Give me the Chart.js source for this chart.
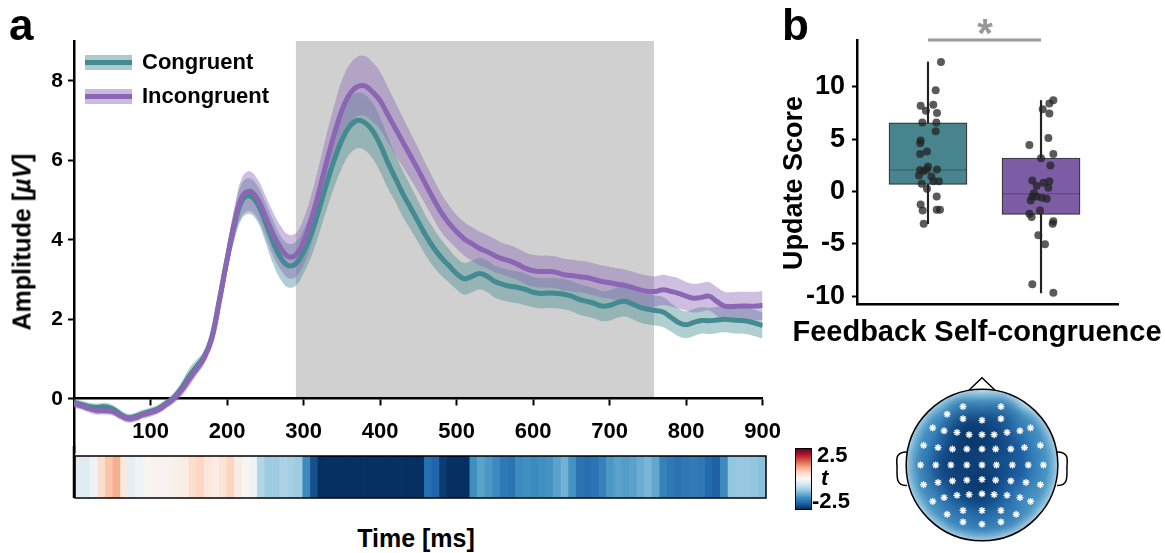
<!DOCTYPE html>
<html>
<head>
<meta charset="utf-8">
<script src="https://cdn.jsdelivr.net/npm/chart.js@4.4.1/dist/chart.umd.min.js"></script>
<style>
  body { margin: 0; background: #fff; }
  #fig { position: relative; width: 1165px; height: 553px; background: #fff; overflow: hidden;
         font-family: "Liberation Sans", Arial, Helvetica, sans-serif; font-weight: bold; color: #000; }
  #fig canvas { position: absolute; }
  .txt { position: absolute; white-space: nowrap; }
  .rot { transform: translate(-50%, -50%) rotate(-90deg); }
  .sw { position: absolute; left: 85px; width: 47px; height: 15px; }
  .sw i { position: absolute; left: 0; right: 0; top: 5px; height: 5px; }
</style>
</head>
<body>
<div id="fig">
  <canvas id="erp" width="795" height="470" style="left:0;top:0"></canvas>
  <canvas id="strip" width="720" height="60" style="left:60px;top:446px"></canvas>
  <canvas id="box" width="395" height="350" style="left:770px;top:0"></canvas>
  <canvas id="topo" width="200" height="200" style="left:882px;top:365px"></canvas>

  <div class="txt" style="left:9px;top:3px;font-size:44px;line-height:44px">a</div>
  <div class="txt" style="left:782px;top:3px;font-size:44px;line-height:44px">b</div>

  <div class="sw" style="top:55px;background:rgba(69,139,146,0.45)"><i style="background:#438a91"></i></div>
  <div class="txt" style="left:142px;top:51px;font-size:22px;line-height:22px">Congruent</div>
  <div class="sw" style="top:89px;background:rgba(139,102,180,0.45)"><i style="background:#8a66b4"></i></div>
  <div class="txt" style="left:142px;top:85px;font-size:22px;line-height:22px">Incongruent</div>

  <div class="txt rot" style="left:22px;top:242px;font-size:25px;line-height:25px">Amplitude [<i>µV</i>]</div>
  <div class="txt" style="left:416px;top:526px;font-size:25px;line-height:25px;transform:translateX(-50%)">Time [ms]</div>

  <div id="cbar" style="position:absolute;left:795px;top:448px;width:15px;height:60px;border:1.5px solid #000"></div>
  <div class="txt" style="left:817px;top:444px;font-size:22px;line-height:22px">2.5</div>
  <div class="txt" style="left:821px;top:467px;font-size:22px;line-height:22px"><i>t</i></div>
  <div class="txt" style="left:812px;top:490px;font-size:22px;line-height:22px">-2.5</div>

  <div class="txt rot" style="left:793px;top:183px;font-size:27px;line-height:27px">Update Score</div>
  <div class="txt" style="left:977px;top:317px;font-size:29px;line-height:29px;transform:translateX(-50%)">Feedback Self-congruence</div>
  <div class="txt" style="left:985px;top:13px;font-size:40px;line-height:40px;color:#999;transform:translateX(-50%)">*</div>
</div>

<script>
// ---- panel a: ERP time course ----
const times = [
  0,10,20,30,40,50,60,70,80,90,
  100,110,120,130,140,150,160,170,180,190,
  200,210,220,230,240,250,260,270,280,290,
  300,310,320,330,340,350,360,370,380,390,
  400,410,420,430,440,450,460,470,480,490,
  500,510,520,530,540,550,560,570,580,590,
  600,610,620,630,640,650,660,670,680,690,
  700,710,720,730,740,750,760,770,780,790,
  800,810,820,830,840,850,860,870,880,890,
  900];
const congruent = [
  -0.10,-0.15,-0.20,-0.22,-0.20,-0.25,-0.38,-0.48,-0.45,-0.38,
  -0.32,-0.25,-0.12,0.02,0.25,0.55,0.80,1.05,1.55,2.50,
  3.50,4.40,5.00,5.10,4.90,4.45,3.95,3.55,3.35,3.40,
  3.70,4.15,4.75,5.40,6.00,6.50,6.85,7.00,6.95,6.75,
  6.40,5.95,5.55,5.15,4.80,4.45,4.10,3.80,3.55,3.35,
  3.15,3.02,3.08,3.15,3.08,2.95,2.88,2.83,2.80,2.75,
  2.68,2.65,2.66,2.65,2.63,2.58,2.50,2.45,2.40,2.33,
  2.35,2.42,2.45,2.38,2.30,2.25,2.22,2.18,2.05,1.92,
  1.86,1.92,1.97,1.96,1.98,2.00,1.98,1.97,1.95,1.90,
  1.84];
const congruentSem = [
  0.10,0.10,0.10,0.10,0.10,0.10,0.10,0.10,0.10,0.10,
  0.10,0.10,0.10,0.12,0.15,0.20,0.18,0.15,0.15,0.20,
  0.30,0.38,0.45,0.45,0.45,0.50,0.55,0.55,0.55,0.55,
  0.55,0.58,0.62,0.65,0.68,0.70,0.70,0.70,0.70,0.70,
  0.68,0.65,0.60,0.58,0.55,0.52,0.50,0.48,0.45,0.42,
  0.40,0.40,0.40,0.40,0.40,0.40,0.40,0.40,0.40,0.40,
  0.38,0.38,0.38,0.38,0.38,0.38,0.38,0.38,0.38,0.38,
  0.38,0.38,0.38,0.38,0.38,0.38,0.38,0.38,0.36,0.35,
  0.34,0.34,0.33,0.33,0.33,0.33,0.33,0.33,0.33,0.33,
  0.33];
const incongruent = [
  -0.12,-0.18,-0.25,-0.30,-0.30,-0.32,-0.42,-0.50,-0.48,-0.40,
  -0.35,-0.28,-0.15,0.00,0.20,0.48,0.75,1.02,1.50,2.45,
  3.50,4.45,5.10,5.22,5.02,4.60,4.15,3.80,3.58,3.62,
  3.95,4.50,5.20,5.95,6.65,7.25,7.65,7.85,7.87,7.72,
  7.50,7.15,6.80,6.45,6.10,5.75,5.38,5.02,4.68,4.42,
  4.20,4.02,3.90,3.78,3.70,3.60,3.52,3.46,3.38,3.28,
  3.22,3.20,3.20,3.18,3.12,3.10,3.07,3.05,3.00,2.95,
  2.92,2.88,2.85,2.80,2.74,2.70,2.70,2.74,2.70,2.65,
  2.58,2.53,2.55,2.58,2.45,2.33,2.32,2.33,2.33,2.33,
  2.35];
const incongruentSem = [
  0.10,0.10,0.10,0.10,0.10,0.10,0.10,0.10,0.10,0.10,
  0.10,0.10,0.10,0.12,0.15,0.18,0.16,0.15,0.15,0.20,
  0.30,0.40,0.48,0.50,0.50,0.52,0.55,0.55,0.55,0.55,
  0.58,0.62,0.66,0.70,0.72,0.75,0.75,0.75,0.75,0.75,
  0.72,0.70,0.66,0.62,0.58,0.55,0.52,0.50,0.48,0.45,
  0.42,0.42,0.42,0.42,0.42,0.42,0.40,0.40,0.40,0.40,
  0.40,0.40,0.40,0.40,0.40,0.40,0.40,0.40,0.40,0.40,
  0.40,0.40,0.40,0.40,0.40,0.40,0.38,0.38,0.38,0.38,
  0.36,0.36,0.36,0.36,0.36,0.36,0.36,0.36,0.36,0.36,
  0.36];
const tStat = [
  -0.30,-0.30,-0.10,0.45,0.70,0.90,0.25,-0.25,-0.10,0.05,
  0.10,0.10,0.10,0.15,0.20,0.45,0.55,0.30,0.20,0.35,
  0.55,0.20,0.05,-0.10,-0.75,-0.90,-0.90,-0.80,-0.85,-0.90,
  -1.60,-2.20,-2.60,-2.60,-2.60,-2.60,-2.60,-2.60,-2.60,-2.60,
  -2.60,-2.60,-2.60,-2.60,-2.60,-2.60,-1.90,-2.00,-2.40,-2.60,
  -2.60,-2.50,-1.55,-1.35,-1.45,-1.60,-1.80,-1.85,-1.60,-1.55,
  -1.60,-1.55,-1.50,-1.35,-1.20,-1.50,-1.85,-1.90,-1.85,-1.70,
  -1.45,-1.35,-1.40,-1.35,-1.25,-1.15,-1.30,-1.70,-1.80,-1.85,
  -1.80,-1.75,-1.80,-1.95,-2.05,-1.60,-1.00,-0.95,-0.95,-1.00,
  -1.05];
const sigWindow = [290, 758];
const xTicks = [100,200,300,400,500,600,700,800,900];
const yTicks = [0,2,4,6,8];

// ---- panel b: update scores ----
const groups = [0, 1];
const boxQ1 = [0.67, -2.2];
const boxMedian = [2.05, -0.22];
const boxQ3 = [6.55, 3.2];
const whiskLow = [-3.08, -9.7];
const whiskHigh = [12.38, 8.7];
const boxColors = ['#48848e', '#7c5da5'];
const congruentScores = [12.38,9.68,8.19,7.71,8.29,7.49,6.6,6.6,5.75,4.86,4.6,3.59,3.81,2.38,2.1,
  2.06,1.94,1.52,2.1,1.43,0.98,0.98,0.73,0.25,-0.48,-1.24,-1.81,-1.75,-1.75,-3.08];
const congruentJitter = [0.115,0.068,-0.065,-0.018,0.047,0.08,-0.05,0.074,0.068,-0.065,-0.068,-0.07,-0.009,0,-0.012,
  -0.07,-0.04,-0.08,0.08,0.03,0.047,0.097,-0.056,-0.009,0.077,-0.065,-0.047,0.077,0.106,-0.038];
const incongruentScores = [8.73,8.41,7.87,7.46,5.11,4.44,3.59,3.17,2.48,1.05,0.83,0.98,0.51,0.35,-0.16,
  -0.48,-0.48,-0.6,-0.7,-0.86,-1.81,-2.12,-2.44,-2.86,-3.08,-4.19,-5.05,-8.86,-9.68];
const incongruentJitter = [0.109,0.074,0.015,0.074,0.065,-0.103,0.109,0,0.083,-0.077,0.021,0.074,-0.038,0.065,-0.062,
  -0.077,-0.038,0.006,0.05,-0.091,-0.009,-0.103,-0.083,0.109,0.103,-0.024,0.035,-0.077,0.109];
const bTicks = [-10,-5,0,5,10];
const sigY = 14.48;

// ---- topography: electrode positions (head radius = 1) and t values ----
const elecX = [
  -0.25,0.25,
  -0.46,-0.25,0,0.25,
  -0.65,-0.50,-0.33,-0.17,0,0.16,0.33,0.50,0.64,
  -0.77,-0.58,-0.39,-0.20,0,0.18,0.38,0.56,0.77,
  -0.81,-0.61,-0.41,-0.20,0,0.19,0.40,0.61,0.81,
  -0.77,-0.58,-0.39,-0.20,0,0.18,0.38,0.58,0.77,
  -0.65,-0.50,-0.33,-0.17,0,0.16,0.33,0.50,0.64,
  -0.46,-0.25,0,0.25,0.45,
  -0.25,0,0.25];
const elecY = [
  0.77,0.77,
  0.67,0.61,0.59,0.61,
  0.49,0.45,0.43,0.40,0.40,0.40,0.43,0.45,0.49,
  0.26,0.23,0.21,0.21,0.21,0.21,0.21,0.23,0.26,
  0,0,0,0,0,0,0,0,0,
  -0.26,-0.23,-0.21,-0.20,-0.19,-0.20,-0.21,-0.23,-0.26,
  -0.48,-0.43,-0.40,-0.39,-0.38,-0.39,-0.40,-0.43,-0.48,
  -0.65,-0.60,-0.60,-0.60,-0.65,
  -0.75,-0.78,-0.75];
const elecT = [
  -1.6,-1.6,
  -1.5,-2.3,-2.4,-2.3,
  -1.5,-1.9,-2.5,-2.5,-2.5,-2.4,-2.2,-1.9,-1.6,
  -1.5,-2.0,-2.4,-2.5,-2.5,-2.4,-2.3,-2.0,-1.5,
  -1.6,-2.2,-2.5,-2.4,-2.3,-2.2,-2.2,-2.0,-1.5,
  -1.5,-2.2,-2.4,-2.4,-2.5,-2.4,-2.2,-2.0,-1.5,
  -1.4,-1.9,-2.3,-2.4,-2.5,-2.4,-2.0,-1.7,-1.4,
  -1.6,-2.1,-2.3,-2.1,-1.7,
  -1.7,-1.9,-1.7];

// RdBu_r colour map, t from -2.5 (blue) to 2.5 (red)
const RDBU = [[103,0,31],[178,24,43],[214,96,77],[244,165,130],[253,219,199],[247,247,247],
  [209,229,240],[146,197,222],[67,147,195],[33,102,172],[5,48,97]];
function tColor(t, a = 1) {
  const p = Math.min(1, Math.max(0, (2.5 - t) / 5)) * 10;
  const i = Math.min(9, Math.floor(p)), f = p - i;
  const c = RDBU[i].map((v, k) => Math.round(v + (RDBU[i + 1][k] - v) * f));
  return `rgba(${c[0]},${c[1]},${c[2]},${a})`;
}
document.getElementById('cbar').style.background =
  'linear-gradient(to bottom,' + RDBU.map(c => `rgb(${c})`).join(',') + ')';

Chart.defaults.font.family = '"Liberation Sans", Arial, Helvetica, sans-serif';
Chart.defaults.font.weight = 'bold';
Chart.defaults.color = '#000';

const teal = '#438a91', purple = '#8a66b4';
const pts = (vals, off = 0, sem = null) => times.map((t, i) => ({ x: t, y: vals[i] + (sem ? off * sem[i] : 0) }));

const shade = {
  id: 'shade',
  beforeDraw(chart) {
    const { ctx, scales: { x, y } } = chart;
    const x0 = x.getPixelForValue(sigWindow[0]), x1 = x.getPixelForValue(sigWindow[1]);
    const yTop = y.getPixelForValue(y.max), yBot = y.getPixelForValue(0);
    ctx.save();
    ctx.fillStyle = '#d0d0d0';
    ctx.fillRect(x0, yTop, x1 - x0, yBot - yTop);
    ctx.restore();
  }
};

const axisStyle = (len) => ({
  grid: { display: true, drawOnChartArea: false, drawTicks: true, tickLength: len, tickWidth: 2, tickColor: '#000' },
  border: { display: true, color: '#000', width: 2.5 }
});

new Chart(document.getElementById('erp'), {
  type: 'line',
  data: {
    datasets: [
      { data: pts(incongruent), borderColor: purple, borderWidth: 5, pointRadius: 0, tension: 0.4, fill: false },
      { data: pts(congruent), borderColor: teal, borderWidth: 5, pointRadius: 0, tension: 0.4, fill: false },
      { data: pts(incongruent, 1, incongruentSem), borderWidth: 0, pointRadius: 0, tension: 0.4,
        fill: '+1', backgroundColor: 'rgba(139,102,180,0.42)' },
      { data: pts(incongruent, -1, incongruentSem), borderWidth: 0, pointRadius: 0, tension: 0.4, fill: false },
      { data: pts(congruent, 1, congruentSem), borderWidth: 0, pointRadius: 0, tension: 0.4,
        fill: '+1', backgroundColor: 'rgba(69,139,146,0.42)' },
      { data: pts(congruent, -1, congruentSem), borderWidth: 0, pointRadius: 0, tension: 0.4, fill: false }
    ]
  },
  options: {
    responsive: false,
    animation: false,
    // right edge is set by half the "900" label plus tick padding
    layout: { padding: { top: 41, right: 0, bottom: 14, left: 0 } },
    plugins: { legend: { display: false }, tooltip: { enabled: false } },
    scales: {
      x: {
        type: 'linear', min: 0, max: 900, position: { y: 0 },
        afterBuildTicks: s => { s.ticks = xTicks.map(v => ({ value: v })); },
        ticks: { font: { size: 22 }, padding: 14, autoSkip: false, maxRotation: 0 },
        ...axisStyle(6)
      },
      y: {
        min: -1.35, max: 9,
        afterBuildTicks: s => { s.ticks = yTicks.map(v => ({ value: v })); },
        afterFit: s => { s.width = 74; },
        ticks: { font: { size: 21 }, padding: 5, autoSkip: false },
        ...axisStyle(6)
      }
    }
  },
  plugins: [shade]
});

// t-value strip under the time axis
const frame = {
  id: 'frame',
  afterDraw(chart) {
    const { ctx, chartArea: a } = chart;
    ctx.save();
    ctx.strokeStyle = '#000';
    ctx.lineWidth = 1.5;
    ctx.strokeRect(a.left, a.top, a.right - a.left, a.bottom - a.top);
    ctx.lineWidth = 2.5;
    ctx.beginPath(); ctx.moveTo(a.left - 1, a.top - 10); ctx.lineTo(a.left - 1, a.bottom); ctx.stroke();
    ctx.restore();
  }
};
new Chart(document.getElementById('strip'), {
  type: 'bar',
  data: {
    labels: times,
    datasets: [{ data: times.map(() => [0, 1]), backgroundColor: tStat.map(t => tColor(t)),
      borderWidth: 0, barPercentage: 1, categoryPercentage: 1 }]
  },
  options: {
    responsive: false, animation: false,
    layout: { padding: { top: 10, right: 14, bottom: 8, left: 15 } },
    plugins: { legend: { display: false }, tooltip: { enabled: false } },
    scales: { x: { display: false }, y: { display: false, min: 0, max: 1 } }
  },
  plugins: [frame]
});

// ---- panel b: box plot ----
new Chart(document.getElementById('box'), {
  type: 'bar',
  data: {
    datasets: [
      { type: 'scatter', order: 0, data: congruentScores.map((v, i) => ({ x: groups[0] + congruentJitter[i], y: v }))
          .concat(incongruentScores.map((v, i) => ({ x: groups[1] + incongruentJitter[i], y: v }))),
        backgroundColor: 'rgba(35,35,35,0.75)', borderWidth: 0, pointRadius: 4 },
      { type: 'line', order: 0, data: groups.map(g => ({ x: g, y: sigY })), borderColor: '#999',
        borderWidth: 3, pointRadius: 0, clip: false },
      { type: 'scatter', order: 1, data: groups.map((g, i) => ({ x: g, y: boxMedian[i] })),
        pointStyle: 'line', pointRadius: 39, borderColor: 'rgba(40,40,60,0.45)', borderWidth: 1 },
      { order: 2, grouped: false, data: groups.map((g, i) => ({ x: g, y: [boxQ1[i], boxQ3[i]] })),
        backgroundColor: boxColors, borderColor: '#333', borderWidth: 1.2, borderSkipped: false, barThickness: 78 },
      { order: 3, grouped: false, data: groups.map((g, i) => ({ x: g, y: [whiskLow[i], whiskHigh[i]] })),
        backgroundColor: '#222', borderWidth: 0, barThickness: 1.5 }
    ]
  },
  options: {
    responsive: false, animation: false,
    layout: { padding: { top: 39, right: 47, bottom: 46, left: 0 } },
    plugins: { legend: { display: false }, tooltip: { enabled: false } },
    scales: {
      x: {
        type: 'linear', min: -0.628, max: 1.681, offset: false,
        afterFit: s => { s.height = 0; },
        ticks: { display: false },
        grid: { display: false },
        border: { display: true, color: '#000', width: 2.5 }
      },
      y: {
        min: -10.76, max: 14.48,
        afterBuildTicks: s => { s.ticks = bTicks.map(v => ({ value: v })); },
        afterFit: s => { s.width = 87; },
        ticks: { font: { size: 27 }, padding: 7, autoSkip: false },
        ...axisStyle(5)
      }
    }
  }
});

// ---- topography ----
const head = {
  id: 'head',
  beforeDatasetsDraw(chart) {
    const { ctx, scales: { x, y } } = chart;
    const px = v => x.getPixelForValue(v), py = v => y.getPixelForValue(v);
    const cx = px(0), cy = py(0), r = px(1) - cx;
    ctx.save();
    ctx.strokeStyle = '#000';
    ctx.lineWidth = 1.5;
    // nose
    ctx.beginPath(); ctx.moveTo(px(-0.19), py(0.97)); ctx.lineTo(px(0), py(1.15)); ctx.lineTo(px(0.19), py(0.97)); ctx.stroke();
    // ears
    [-1, 1].forEach(s => {
      ctx.beginPath();
      ctx.moveTo(px(s * 0.99), py(0.17));
      ctx.bezierCurveTo(px(s * 1.14), py(0.17), px(s * 1.13), py(0.08), px(s * 1.12), py(-0.02));
      ctx.bezierCurveTo(px(s * 1.12), py(-0.15), px(s * 1.14), py(-0.28), px(s * 0.99), py(-0.27));
      ctx.stroke();
    });
    // field
    ctx.save();
    ctx.beginPath(); ctx.arc(cx, cy, r, 0, 2 * Math.PI); ctx.clip();
    const g = ctx.createRadialGradient(cx, cy, 0, cx, cy, r);
    g.addColorStop(0, tColor(-2.3)); g.addColorStop(0.55, tColor(-2.0));
    g.addColorStop(0.85, tColor(-1.4)); g.addColorStop(1, tColor(-0.6));
    ctx.fillStyle = g;
    ctx.fillRect(cx - r, cy - r, 2 * r, 2 * r);
    elecX.forEach((ex, i) => {
      const ex0 = px(ex), ey0 = py(elecY[i]), rr = r * 0.3;
      const bg = ctx.createRadialGradient(ex0, ey0, 0, ex0, ey0, rr);
      bg.addColorStop(0, tColor(elecT[i], 0.55)); bg.addColorStop(1, tColor(elecT[i], 0));
      ctx.fillStyle = bg;
      ctx.fillRect(ex0 - rr, ey0 - rr, 2 * rr, 2 * rr);
    });
    ctx.restore();
    ctx.beginPath(); ctx.arc(cx, cy, r, 0, 2 * Math.PI); ctx.stroke();
    ctx.restore();
  }
};
new Chart(document.getElementById('topo'), {
  type: 'scatter',
  data: {
    datasets: [
      { data: elecX.map((v, i) => ({ x: v, y: elecY[i] })), pointStyle: 'star', pointRadius: 3.5,
        borderColor: '#fff', borderWidth: 1.2 },
      { data: elecX.map((v, i) => ({ x: v, y: elecY[i] })), pointRadius: 3,
        backgroundColor: 'rgba(255,255,255,0.3)', borderWidth: 0 }
    ]
  },
  options: {
    responsive: false, animation: false,
    layout: { padding: 0 },
    plugins: { legend: { display: false }, tooltip: { enabled: false } },
    scales: {
      x: { display: false, min: -1.25, max: 1.25 },
      y: { display: false, min: -1.25, max: 1.25 }
    }
  },
  plugins: [head]
});
</script>
</body>
</html>
